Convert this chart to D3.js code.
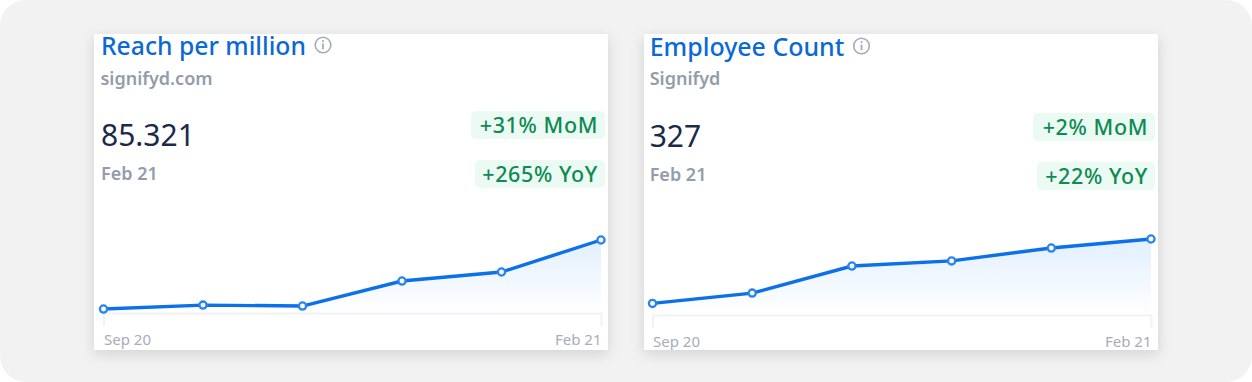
<!DOCTYPE html>
<html><head><meta charset="utf-8">
<script src="https://cdn.jsdelivr.net/npm/d3@7"></script>
<style>
html,body{margin:0;padding:0;background:#fff}
svg{display:block}
text{font-family:"Noto Sans",sans-serif}
</style></head><body>
<svg id="c" width="1252" height="382"></svg>
<script>
const months = ["Sep 20","Oct 20","Nov 20","Dec 20","Jan 21","Feb 21"];
const reachValues = [41.7,44.2,43.6,59.4,65.1,85.321];
const employeeValues = [277,285,306,310,320,327];
const titles = ["Reach per million","Employee Count"];
const subtitles = ["signifyd.com","Signifyd"];
const bigNumbers = ["85.321","327"];
const dateLabel = "Feb 21";
const momLabels = ["+31% MoM","+2% MoM"];
const yoyLabels = ["+265% YoY","+22% YoY"];
const yDomains = [[39.2,85.321],[268,327]];

const layouts = [
  {card:94, tx:101, dy:0, x0:103.5, x1:601, yBase:313, yTop:240, infoX:323, mom:[471,134], yoy:[475,130], chipR:605, titleSize:24.7},
  {card:644, tx:649.7, dy:2, x0:652.5, x1:1151, yBase:315, yTop:239, infoX:861.5, mom:[1033,122], yoy:[1037,118], chipR:1155, titleSize:24.95}
];
const svg = d3.select("#c");
const defs = svg.append("defs");
const grad = defs.append("linearGradient").attr("id","fade").attr("x1",0).attr("y1",0).attr("x2",0).attr("y2",1);
grad.append("stop").attr("offset",0).attr("stop-color","#e2efff");
grad.append("stop").attr("offset",1).attr("stop-color","#ffffff");
const clip = defs.append("clipPath").attr("id","cardclip");
clip.append("rect").attr("x",0).attr("y",34).attr("width",1252).attr("height",316);

svg.append("rect").attr("width",1252).attr("height",382).attr("rx",26).attr("fill","#f2f2f2");

[reachValues,employeeValues].forEach((vals,i)=>{
  const L = layouts[i];
  svg.append("rect").attr("x",L.card).attr("y",34).attr("width",514).attr("height",316)
    .attr("fill","#fff").style("filter","drop-shadow(0 4px 7px rgba(0,0,0,.13))");
  const g = svg.append("g").attr("clip-path","url(#cardclip)");
  g.append("text").attr("x",L.tx).attr("y",55+L.dy*0.5).attr("font-size",L.titleSize).attr("font-weight",500).attr("fill","#0b69d6").text(titles[i]);
  const info = g.append("g").attr("transform",`translate(${L.infoX},${45+L.dy*0.5})`);
  info.append("circle").attr("r",7.8).attr("fill","none").attr("stroke","#a3abb8").attr("stroke-width",1.6);
  info.append("rect").attr("x",-0.9).attr("y",-1.5).attr("width",1.8).attr("height",5.8).attr("fill","#a3abb8");
  info.append("circle").attr("cy",-4).attr("r",1.1).attr("fill","#a3abb8");
  g.append("text").attr("x",L.tx-(i?0:0.5)).attr("y",85).attr("font-size",18).attr("font-weight",600).attr("fill","#939cab").text(subtitles[i]);
  g.append("text").attr("x",L.tx).attr("y",146+L.dy*0.5).attr("font-size",30).attr("fill","#1b2a4a").text(bigNumbers[i]);
  g.append("text").attr("x",L.tx).attr("y",180+L.dy*0.5).attr("font-size",18).attr("font-weight",600).attr("fill","#939cab").text(dateLabel);

  [[momLabels[i],L.mom,111],[yoyLabels[i],L.yoy,160]].forEach(([t,c,y])=>{
    g.append("rect").attr("x",c[0]).attr("y",y+L.dy).attr("width",c[1]).attr("height",28).attr("rx",5).attr("fill","#ebfbf3");
    g.append("text").attr("x",L.chipR-7).attr("y",y+L.dy+22).attr("text-anchor","end").attr("font-size",21.5).attr("font-weight",500).attr("letter-spacing",0.6).attr("fill","#0f8a55").text(t);
  });

  const x = d3.scalePoint().domain(months).range([L.x0,L.x1]);
  const y = d3.scaleLinear().domain(yDomains[i]).range([L.yBase,L.yTop]);
  g.append("path").datum(vals)
    .attr("d",d3.area().x((d,k)=>x(months[k])).y0(L.yBase).y1(d=>y(d)))
    .attr("fill","url(#fade)");
  const ax = g.append("g").attr("transform",`translate(0,${L.yBase})`)
    .call(d3.axisBottom(x).tickValues([months[0],months[5]]).tickSizeInner(0).tickSizeOuter(13).tickPadding(21));
  ax.select(".domain").attr("stroke","#f1f2f4").attr("stroke-width",2);
  ax.selectAll("text").attr("font-size",15).attr("fill","#a6adba").attr("font-family","Noto Sans")
    .attr("text-anchor",d=>d===months[0]?"start":"end");
  g.append("path").datum(vals)
    .attr("d",d3.line().x((d,k)=>x(months[k])).y(d=>y(d)))
    .attr("fill","none").attr("stroke","#0b70ea").attr("stroke-width",3.4);
  g.selectAll(".dot").data(vals).join("circle").attr("class","dot")
    .attr("cx",(d,k)=>x(months[k])).attr("cy",d=>y(d)).attr("r",3.6)
    .attr("fill","#fff").attr("stroke","#2a84f0").attr("stroke-width",2.3);
});
</script></body></html>
